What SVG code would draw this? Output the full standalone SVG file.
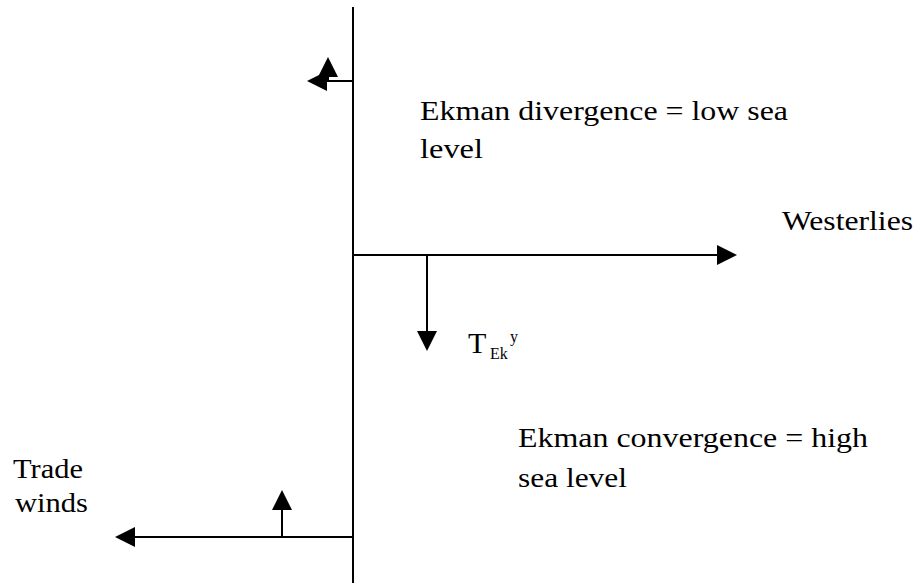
<svg xmlns="http://www.w3.org/2000/svg" width="918" height="583" viewBox="0 0 918 583">
<style>
.ln{stroke:#000;stroke-width:2;fill:none}
text{font-family:Times,'Times New Roman','Liberation Serif',Tinos,'Noto Serif',FreeSerif,'DejaVu Serif',serif;fill:#000}
.t{font-size:27px}
.s{font-size:16px}
</style>
<defs>
<marker id="ah" viewBox="0 0 20 20" refX="0" refY="10" markerWidth="20" markerHeight="20" markerUnits="userSpaceOnUse" orient="auto">
<path d="M0,0 L20,10 L0,20 Z" fill="#000"/>
</marker>
</defs>
<rect width="918" height="583" fill="#fff"/>
<g id="connectors">
<line class="ln" x1="353" y1="7" x2="353" y2="583"/>
<line class="ln" x1="353" y1="81" x2="327" y2="81" marker-end="url(#ah)"/>
<line class="ln" x1="328" y1="81" x2="328" y2="77" marker-end="url(#ah)"/>
<line class="ln" x1="353" y1="255" x2="717" y2="255" marker-end="url(#ah)"/>
<line class="ln" x1="427" y1="255" x2="427" y2="331" marker-end="url(#ah)"/>
<line class="ln" x1="353" y1="537" x2="135" y2="537" marker-end="url(#ah)"/>
<line class="ln" x1="282" y1="537" x2="282" y2="510" marker-end="url(#ah)"/>
</g>
<g id="divergence">
<text class="t" x="420" y="120" textLength="368" lengthAdjust="spacingAndGlyphs">Ekman divergence = low sea</text>
<text class="t" x="420" y="158" textLength="63" lengthAdjust="spacingAndGlyphs">level</text>
</g>
<g id="westerlies">
<text class="t" x="782" y="230" textLength="131" lengthAdjust="spacingAndGlyphs">Westerlies</text>
</g>
<g id="tek">
<text class="t" x="468" y="353" style="font-size:30px">T</text>
<text class="s" x="490" y="359">Ek</text>
<text class="s" x="510" y="342">y</text>
</g>
<g id="convergence">
<text class="t" x="518" y="447" textLength="350" lengthAdjust="spacingAndGlyphs">Ekman convergence = high</text>
<text class="t" x="518" y="487" textLength="109" lengthAdjust="spacingAndGlyphs">sea level</text>
</g>
<g id="trade">
<text class="t" x="13" y="478" textLength="70" lengthAdjust="spacingAndGlyphs">Trade</text>
<text class="t" x="15" y="512" textLength="73" lengthAdjust="spacingAndGlyphs">winds</text>
</g>
</svg>
